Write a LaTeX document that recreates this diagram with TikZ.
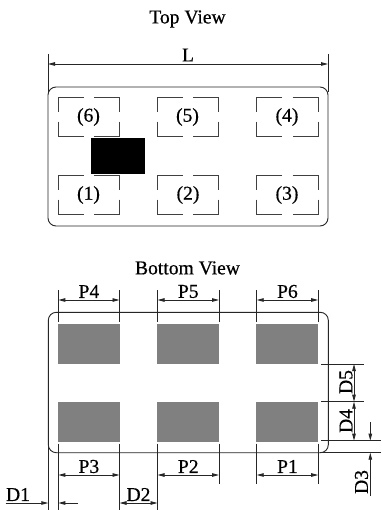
\documentclass[tikz,border=0pt]{standalone}
\usepackage{fontspec}
\setmainfont[FakeBold=0.5]{Liberation Serif}
\usetikzlibrary{arrows.meta}
\tikzset{
  every picture/.style={x=1pt,y=-1pt},
  lbl/.style={inner sep=0pt,font=\fontsize{19.6}{20}\selectfont,text=black},
  ln/.style={line width=0.9pt,draw=black!85},
  thin line/.style={line width=0.8pt,draw=black!75},
  dimline/.style={ln,{Stealth[length=7pt,width=3.5pt,inset=0pt]}-{Stealth[length=7pt,width=3.5pt,inset=0pt]}},
  endarrow/.style={ln,-{Stealth[length=7pt,width=3.5pt,inset=0pt]}},
  pad/.style={fill=black!50,draw=none},
  pkg/.style={ln,rounded corners=8pt},
}
\newcommand{\brokenbox}[2]{%
  \draw[thin line]
    (#1+25.5,#2) -- (#1,#2) -- (#1,#2+14)
    (#1,#2+24) -- (#1,#2+38.6) -- (#1+25.5,#2+38.6)
    (#1+36,#2) -- (#1+61.5,#2) -- (#1+61.5,#2+14)
    (#1+61.5,#2+24) -- (#1+61.5,#2+38.6) -- (#1+36,#2+38.6);}
\begin{document}
\begin{tikzpicture}
\useasboundingbox (0,0) rectangle (381,510);
\fill[white] (0,0) rectangle (381,510);
% top view
\node[lbl] (tv) at (187.5,19) {Top View};
\node[lbl] (L) at (188,55) {L};
\draw[ln] (48,54) -- (48,92) (328,54) -- (328,92);
\coordinate (la) at (48,64); \coordinate (lb) at (328,64);
\draw[dimline] (la) -- (lb);
\draw[pkg] (48,87) rectangle (328,226);
\foreach \x in {58,157.3,256.7}{\brokenbox{\x}{97.7}\brokenbox{\x}{175.7}}
\fill[black] (91.3,138.3) rectangle (144.7,174);
\node[lbl] (p6) at (88.5,117) {(6)};
\node[lbl] (p5) at (187.5,117) {(5)};
\node[lbl] (p4) at (287,117) {(4)};
\node[lbl] (p1) at (88.5,195) {(1)};
\node[lbl] (p2) at (188,195) {(2)};
\node[lbl] (p3) at (287,195) {(3)};
% bottom view
\node[lbl] (bv) at (187.5,268) {Bottom View};
\draw[pkg] (48.3,312.3) rectangle (328.3,452.7);
\foreach \x in {57.7,157,256}{
  \fill[pad] (\x,324) rectangle +(62.3,40.3);
  \fill[pad] (\x,401.7) rectangle +(62.3,40);
}
% extension lines
\foreach \x in {58.3,119.5,157.5,219,256.7,318.2}{\draw[ln] (\x,290) -- (\x,322);}
\foreach \x in {219,256.7,318.2}{\draw[ln] (\x,443.5) -- (\x,484);}
\foreach \x in {58.3,119.5,157.5}{\draw[ln] (\x,443.5) -- (\x,510);}
\draw[ln] (48.3,445) -- (48.3,510);
% P dims
\foreach \a/\b/\t/\n in {58.3/119.5/P4/p4d,157.5/219/P5/p5d,256.7/318.2/P6/p6d}{
  \draw[dimline] (\a,300) -- (\b,300);
  \node[lbl] (\n) at ({(\a+\b)/2},291.5) {\t};
}
\foreach \a/\b/\t/\n in {58.3/119.5/P3/p3d,157.5/219/P2/p2d,256.7/318.2/P1/p1d}{
  \draw[dimline] (\a,475) -- (\b,475);
  \node[lbl] (\n) at ({(\a+\b)/2},466.5) {\t};
}
% D1, D2
\node[lbl] (d1) at (18,494.5) {D1};
\coordinate (d1a) at (5.5,503); \coordinate (d1b) at (48.3,503);
\draw[endarrow] (d1a) -- (d1b);
\coordinate (d1c) at (78,503); \coordinate (d1d) at (58.3,503);
\draw[endarrow] (d1c) -- (d1d);
\node[lbl] (d2) at (138.5,494.5) {D2};
\coordinate (d2a) at (119.5,503); \coordinate (d2b) at (157.5,503);
\draw[dimline] (d2a) -- (d2b);
% right side
\draw[ln] (321,364) -- (364,364) (321,401.7) -- (364,401.7);
\draw[ln] (321,440.7) -- (381,440.7);
\draw[ln] (320,452.7) -- (381,452.7);
\draw[dimline] (354,364) -- (354,401.7);
\draw[dimline] (354,401.7) -- (354,440.7);
\node[lbl,rotate=90] (d5) at (346,382) {D5};
\node[lbl,rotate=90] (d4) at (346,421) {D4};
\coordinate (d3a) at (370.3,422); \coordinate (d3b) at (370.3,440.7);
\draw[endarrow] (d3a) -- (d3b);
\coordinate (d3c) at (370.3,496); \coordinate (d3d) at (370.3,452.7);
\draw[endarrow] (d3c) -- (d3d);
\node[lbl,rotate=90] (d3) at (361.5,482) {D3};
\end{tikzpicture}
\end{document}
